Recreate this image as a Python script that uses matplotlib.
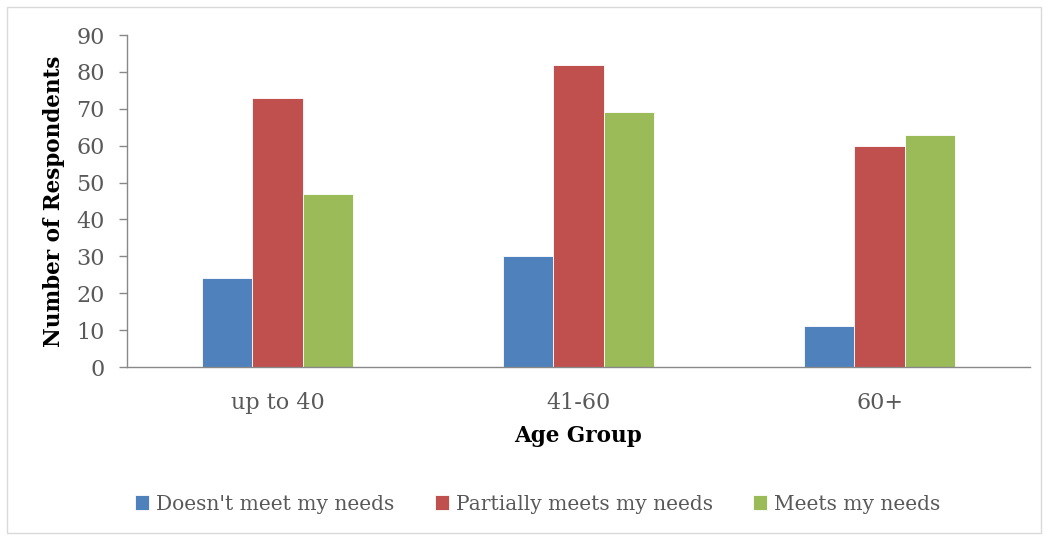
import matplotlib.pyplot as plt
import numpy as np
from matplotlib.patches import Rectangle

groups = ['up to 40', '41-60', '60+']
series_names = ["Doesn't meet my needs", 'Partially meets my needs', 'Meets my needs']
doesnt_meet = [24, 30, 11]
partially_meets = [73, 82, 60]
meets = [47, 69, 63]
colors = ['#4f81bd', '#c0504d', '#9bbb59']

plt.rcParams['font.family'] = ['DejaVu Serif']

fig = plt.figure(figsize=(10.49, 5.40), dpi=100)
ax = fig.add_axes([127 / 1049, 1 - 367 / 540, (1030 - 127) / 1049, (367 - 35) / 540])

x = np.arange(len(groups))
width = 1 / 6
for i, (vals, name) in enumerate(zip([doesnt_meet, partially_meets, meets], series_names)):
    ax.bar(x + (i - 1) * width, vals, width, color=colors[i], label=name,
           edgecolor='white', linewidth=0.6)

ax.set_xlim(-0.5, 2.5)
ax.set_ylim(0, 90)
ax.set_yticks(range(0, 91, 10))
ax.set_xticks(x)
ax.set_xticklabels(groups)
ax.tick_params(axis='y', colors='#888888', labelcolor='#595959', labelsize=16, length=6,
               width=1, pad=10)
ax.tick_params(axis='x', length=0, labelcolor='#595959', labelsize=16, pad=18)
for s in ['top', 'right']:
    ax.spines[s].set_visible(False)
for s in ['left', 'bottom']:
    ax.spines[s].set_color('#888888')
    ax.spines[s].set_linewidth(1)

ax.set_ylabel('Number of Respondents', fontsize=15.5, fontweight='bold', labelpad=8)
ax.set_xlabel('Age Group', fontsize=15.5, fontweight='bold', labelpad=8)

fig.legend(loc='center', bbox_to_anchor=(538 / 1049, 1 - 504 / 540), ncol=3, frameon=False,
           fontsize=14.5, labelcolor='#595959', handlelength=0.7, handleheight=0.7,
           handletextpad=0.35, columnspacing=2.0)

fig.patches.append(Rectangle((7 / 1049, 1 - 533 / 540), 1034 / 1049, 526 / 540,
                             transform=fig.transFigure, fill=False,
                             edgecolor='#d9d9d9', linewidth=1))

fig.savefig('out.png', dpi=100)
